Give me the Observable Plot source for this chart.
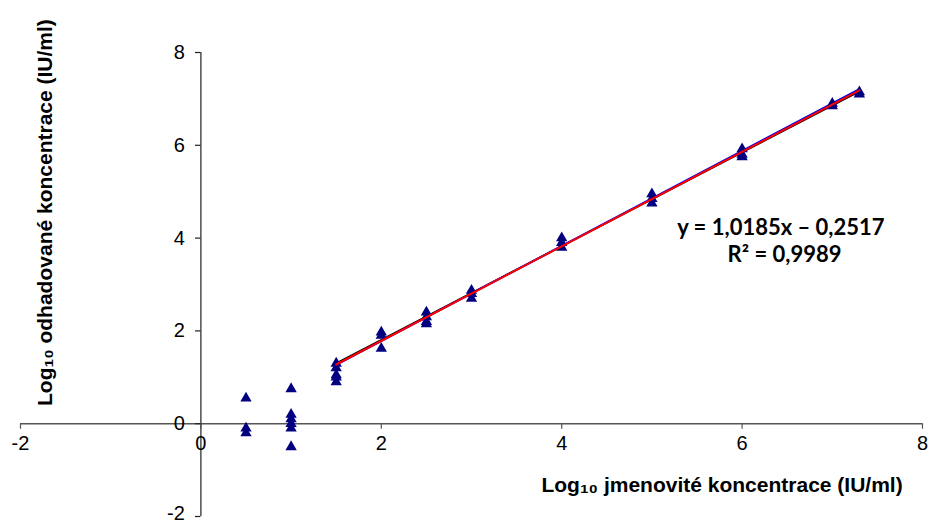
<!DOCTYPE html>
<html>
<head>
<meta charset="utf-8">
<script src="https://cdn.jsdelivr.net/npm/d3@7"></script>
<script src="https://cdn.jsdelivr.net/npm/@observablehq/plot@0.6"></script>
<style>
  html, body { margin: 0; padding: 0; background: #fff; }
</style>
</head>
<body>
<div id="chart"></div>
<script>
// Measured points: nominal log10 concentration (x) vs estimated log10 concentration (y)
const pointX = [0.5, 0.5, 0.5,
                1, 1, 1, 1, 1, 1,
                1.5, 1.5, 1.5, 1.5, 1.5,
                2, 2, 2,
                2.5, 2.5, 2.5, 2.5,
                3, 3, 3,
                4, 4, 4,
                5, 5, 5,
                6, 6, 6,
                7, 7,
                7.3, 7.3];
const pointY = [0.55, -0.1, -0.2,
                0.75, 0.2, 0.1, 0.0, -0.1, -0.5,
                1.3, 1.2, 1.05, 1.0, 0.9,
                1.97, 1.9, 1.62,
                2.4, 2.3, 2.2, 2.15,
                2.87, 2.8, 2.7,
                4.0, 3.9, 3.8,
                4.95, 4.85, 4.75,
                5.92, 5.8, 5.75,
                6.9, 6.85,
                7.15, 7.1];

// Trend lines (endpoints)
const lineX = [1.5, 7.3];
const blackY = [1.30, 7.16];
const blueY = [1.27, 7.21];
const redY = [1.276, 7.183];

const xTicks = [-2, 0, 2, 4, 6, 8];
const yTicks = [0, 2, 4, 6, 8];
const yTickBottom = [-2];
const yTicksAll = yTickBottom.concat(yTicks);

const xTitle = "Log₁₀ jmenovité koncentrace (IU/ml)";
const yTitle = "Log₁₀ odhadované koncentrace (IU/ml)";
const equation = "y = 1,0185x – 0,2517";
const rSquared = "R² = 0,9989";

const points = pointX.map((x, i) => ({x, y: pointY[i]}));
const mkLine = (ys) => lineX.map((x, i) => ({x, y: ys[i]}));

const font = "'Liberation Sans', Arial, sans-serif";
const chart = Plot.plot({
  width: 930,
  height: 523,
  marginLeft: 20,
  marginRight: 8,
  marginTop: 52,
  marginBottom: 7,
  x: {domain: [-2, 8], axis: null},
  y: {domain: [-2, 8], axis: null},
  style: {fontFamily: font, fontSize: "20px", background: "#fff", overflow: "visible"},
  marks: [
    // axes through the origin
    Plot.ruleY([0], {stroke: "#555", strokeWidth: 1.5}),
    Plot.ruleX([0], {stroke: "#222", strokeWidth: 1.2}),
    // tick marks
    Plot.ruleX(xTicks, {x: d => d, y1: 0, y2: -0.12, stroke: "#555", strokeWidth: 1.2}),
    Plot.ruleY(yTicksAll, {y: d => d, x1: 0, x2: -0.06, stroke: "#222", strokeWidth: 1.2}),
    // tick labels
    Plot.text(xTicks, {x: d => d, y: 0, text: d => String(d), dy: 20, fill: "#000", fontSize: 20}),
    Plot.text(yTicks, {x: 0, y: d => d, text: d => String(d), dx: -16, textAnchor: "end", fill: "#000", fontSize: 20}),
    Plot.text(yTickBottom, {x: 0, y: d => d, text: d => String(d), dx: -16, dy: -3, textAnchor: "end", fill: "#000", fontSize: 20}),
    // trend lines
    Plot.line(mkLine(blackY), {x: "x", y: "y", stroke: "#000", strokeWidth: 1.8}),
    Plot.line(mkLine(blueY), {x: "x", y: "y", stroke: "#0000ee", strokeWidth: 2}),
    // points
    Plot.dot(points, {x: "x", y: "y", symbol: "triangle", r: 4.2, fill: "#000080", stroke: "none"}),
    Plot.line(mkLine(redY), {x: "x", y: "y", stroke: "#ff0000", strokeWidth: 2}),
    // titles
    Plot.text([xTitle], {x: 7.78, y: -1.32, text: d => d, textAnchor: "end", fontWeight: "bold", fontSize: 21, fill: "#000"}),
    Plot.text([yTitle], {x: -1.72, y: 4.55, text: d => d, rotate: -90, fontWeight: "bold", fontSize: 21, fill: "#000"}),
    // regression annotation
    Plot.text([equation], {x: 6.43, y: 4.22, text: d => d, fontWeight: "bold", fontSize: 22, fill: "#000", fontFamily: "Lato, sans-serif"}),
    Plot.text([rSquared], {x: 6.47, y: 3.64, text: d => d, fontWeight: "bold", fontSize: 22, fill: "#000", fontFamily: "Lato, sans-serif"})
  ]
});
document.getElementById("chart").appendChild(chart);
</script>
</body>
</html>
